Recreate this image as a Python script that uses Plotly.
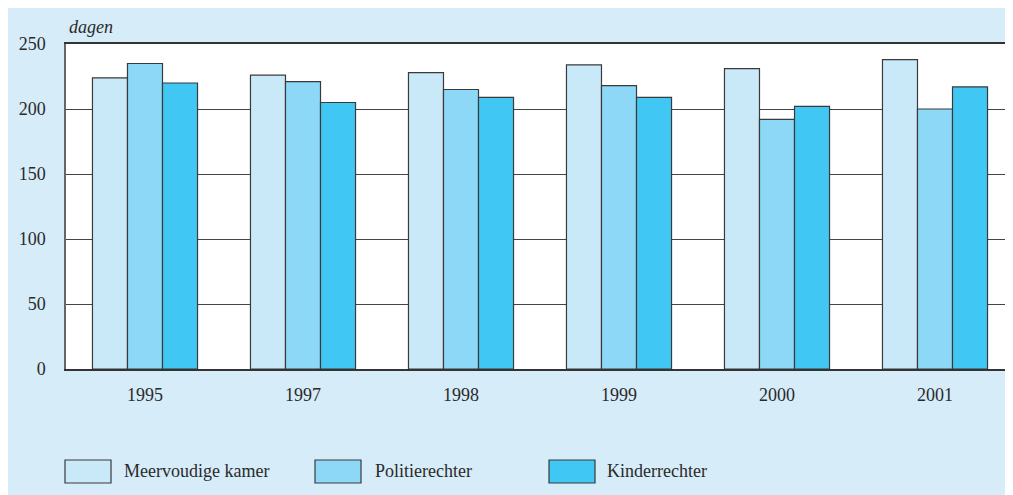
import plotly.graph_objects as go

# Gegevens: gemiddelde doorlooptijd in dagen
jaren = ["1995", "1997", "1998", "1999", "2000", "2001"]
meervoudige_kamer = [224, 226, 228, 234, 231, 238]
politierechter = [235, 221, 215, 218, 192, 200]
kinderrechter = [220, 205, 209, 209, 202, 217]

namen = ["Meervoudige kamer", "Politierechter", "Kinderrechter"]
waarden_per_reeks = [meervoudige_kamer, politierechter, kinderrechter]
kleuren = ["#c9e9f8", "#8dd8f6", "#40c7f3"]

FONT = "Liberation Serif"
FS = 18
TEKST = "#2a2a2a"
BLAUW = "#d6ecf9"

# plotgebied in schermpixels (voor de handgemaakte legenda)
PX0, PX1, PY0, PY1 = 66, 1014, 44, 369


def px_x(x):
    return (x - PX0) / (PX1 - PX0)


def px_y(y):
    return (PY1 - y) / (PY1 - PY0)


fig = go.Figure()
for naam, waarden, kleur in zip(namen, waarden_per_reeks, kleuren):
    fig.add_trace(
        go.Bar(
            x=jaren,
            y=waarden,
            name=naam,
            marker=dict(color=kleur, line=dict(color="#3a3a3a", width=1.2)),
            showlegend=False,
        )
    )

# Legenda: grotere vakjes dan de standaard plotly-legenda
legenda_x = [(65, 122), (315, 373), (549, 605)]
shapes = []
annotations = []
for (bx, tx), naam, kleur in zip(legenda_x, namen, kleuren):
    shapes.append(
        dict(
            type="rect",
            xref="paper",
            yref="paper",
            x0=px_x(bx),
            x1=px_x(bx + 46),
            y0=px_y(483),
            y1=px_y(460),
            fillcolor=kleur,
            line=dict(color="#3a3a3a", width=1.2),
        )
    )
    annotations.append(
        dict(
            text=naam,
            xref="paper",
            yref="paper",
            x=px_x(tx),
            y=px_y(471),
            xanchor="left",
            yanchor="middle",
            showarrow=False,
            font=dict(family=FONT, size=FS, color=TEKST),
        )
    )

annotations.append(
    dict(
        text="<i>dagen</i>",
        xref="paper",
        yref="paper",
        x=px_x(67),
        y=px_y(27),
        xanchor="left",
        yanchor="middle",
        showarrow=False,
        font=dict(family=FONT, size=FS, color=TEKST),
    )
)

fig.update_layout(
    width=1013,
    height=495,
    barmode="group",
    bargap=0.335,
    bargroupgap=0,
    paper_bgcolor=BLAUW,
    plot_bgcolor="white",
    margin=dict(l=58, r=7, t=36, b=134),
    font=dict(family=FONT, size=FS, color=TEKST),
    showlegend=False,
    shapes=shapes,
    annotations=annotations,
)

fig.update_xaxes(
    showline=True,
    linecolor="#333",
    linewidth=1.5,
    mirror=True,
    showgrid=False,
    ticks="",
    ticklabelstandoff=9,
)
fig.update_yaxes(
    range=[0, 250],
    tickvals=[0, 50, 100, 150, 200, 250],
    showline=True,
    linecolor="#666",
    linewidth=1.5,
    showgrid=True,
    gridcolor="#444",
    gridwidth=1,
    zeroline=False,
    ticks="",
    ticklabelstandoff=15,
)

fig.write_html("out.html")
